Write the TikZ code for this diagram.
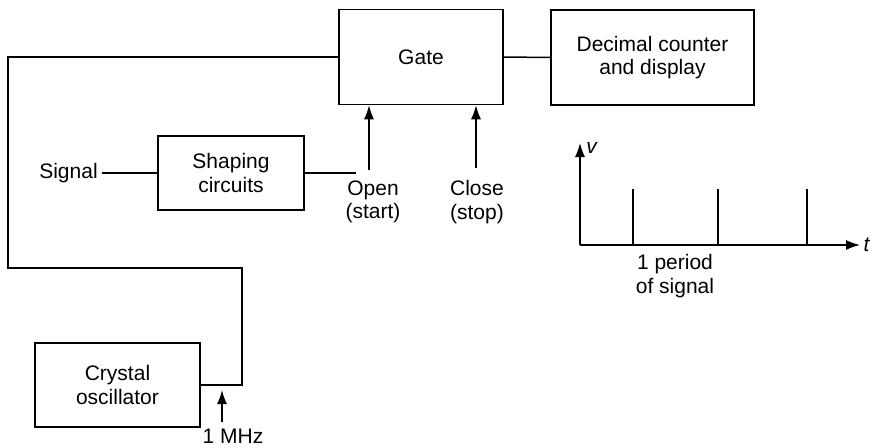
\documentclass[tikz,border=0pt]{standalone}
\usepackage{fontspec}
\setmainfont{Liberation Sans}
\usetikzlibrary{arrows.meta}
\tikzset{block/.style={draw, line width=1.5pt, align=center},
         lbl/.style={align=center},
         sig/.style={-{Latex[length=14pt,width=10pt]}}}

\begin{document}
\begin{tikzpicture}[x=1pt, y=-1pt, line width=1.5pt, font=\fontsize{21}{23.5}\selectfont]
    \useasboundingbox (0,0) rectangle (872,447);

    \node[block, minimum width=164pt, minimum height=95pt] (gate) at (421, 57) {Gate};
    \node[block, minimum width=203pt, minimum height=95pt] (counter) at (652.5, 57.5) {Decimal counter\\and display};
    \node[block, minimum width=146pt, minimum height=74pt] (shaping) at (231, 173) {Shaping\\circuits};
    \node[block, minimum width=165pt, minimum height=84pt] (crystal) at (117.5, 385) {Crystal\\oscillator};

    \node (signal) at (68.5, 173) {Signal};
    \node[lbl] (open) at (373, 202) {Open\\(start)};
    \node[lbl] (close) at (477, 202) {Close\\(stop)};
    \node (mhz) at (233, 436.5) {1 MHz};
    \node[lbl] (period) at (675, 276) {1 period\\of signal};
    \node (vlab) at (592, 148) {\textit{v}};
    \node (tlab) at (867, 245) {\textit{t}};

    \coordinate (L1) at (8, 57);
    \coordinate (L2) at (8, 268);
    \coordinate (L3) at (242, 268);
    \coordinate (S1) at (356, 173);
    \coordinate (P1) at (369, 170);
    \coordinate (P2) at (476, 168);
    \coordinate (M1) at (222, 422);
    \coordinate (M2) at (222, 390);
    \coordinate (O) at (580, 245);
    \coordinate (V) at (580, 143);
    \coordinate (T) at (860, 245);

    \draw (gate.east) -- (counter.west);
    \draw (crystal.east) -| (L3) -- (L2) -- (L1) -- (gate.west);
    \draw (signal.east) -- (shaping.west);
    \draw (shaping.east) -- (S1);
    \draw[sig] (P1) -- (P1 |- gate.south);
    \draw[sig] (P2) -- (P2 |- gate.south);
    \draw[sig] (M1) -- (M2);

    \draw[sig] (O) -- (V);
    \draw[sig] (O) -- (T);
    \foreach \x in {633, 718, 807}
        \draw (\x, 245) -- (\x, 189);
\end{tikzpicture}
\end{document}
